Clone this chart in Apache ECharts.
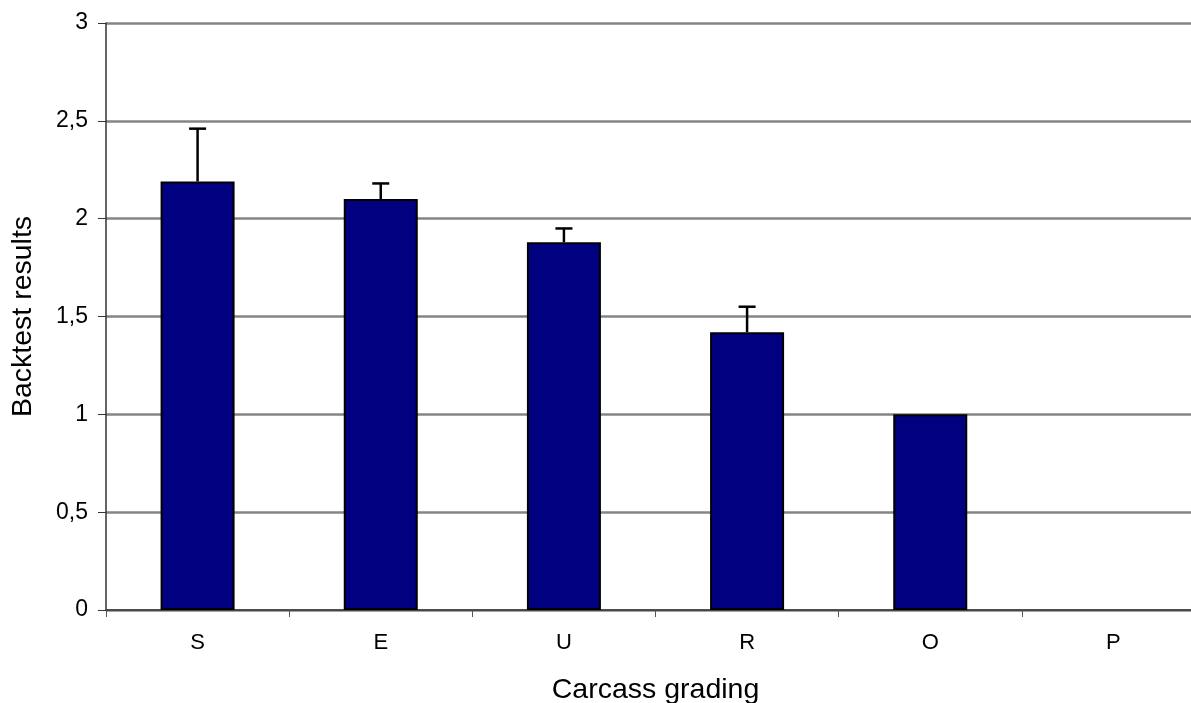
<!DOCTYPE html>
<html>
<head>
<meta charset="utf-8">
<script src="https://cdn.jsdelivr.net/npm/echarts@6/dist/echarts.min.js"></script>
<style>
html,body{margin:0;padding:0;overflow:hidden;background:#fff;width:1191px;height:703px;}
#c{width:1205px;height:703px;}
</style>
</head>
<body>
<div id="c"></div>
<script>
const categories = ['S', 'E', 'U', 'R', 'O', 'P'];
const values = [2.19, 2.10, 1.88, 1.42, 1.00, 0];
const errorHigh = [2.46, 2.18, 1.95, 1.55, 1.00, 0];
const yTicks = [0, 0.5, 1, 1.5, 2, 2.5, 3];

const chart = echarts.init(document.getElementById('c'), null, {renderer: 'canvas'});
const font = '"Liberation Sans", Arial, sans-serif';

const barData = values.map(v => (v === 0 ? '-' : v));
const errData = categories.map((c, i) => [i, values[i], errorHigh[i]]);

chart.setOption({
  animation: false,
  backgroundColor: '#ffffff',
  grid: {left: 106, right: 0, top: 23, bottom: 93, containLabel: false, outerBoundsMode: 'none'},
  xAxis: {
    type: 'category',
    data: categories,
    axisLine: {lineStyle: {color: '#333', width: 1.5}},
    axisTick: {show: true, alignWithLabel: false, length: 7, lineStyle: {color: '#555', width: 1}},
    axisLabel: {color: '#000', fontSize: 22, fontFamily: font, margin: 22},
    name: 'Carcass grading',
    nameLocation: 'middle',
    nameGap: 66,
    nameTextStyle: {color: '#000', fontSize: 28.5, fontFamily: font}
  },
  yAxis: {
    type: 'value',
    min: 0, max: 3, interval: 0.5,
    axisLine: {show: true, lineStyle: {color: '#333', width: 1.5}},
    axisTick: {show: true, length: 8, lineStyle: {color: '#333', width: 1}},
    axisLabel: {
      color: '#000', fontSize: 23, fontFamily: font, margin: 18,
      formatter: v => yTicks.includes(v) ? String(v).replace('.', ',') : ''
    },
    splitLine: {show: true, lineStyle: {color: '#858585', width: 2.5}},
    name: 'Backtest results',
    nameLocation: 'middle',
    nameGap: 68,
    nameTextStyle: {color: '#000', fontSize: 28.5, fontFamily: font}
  },
  series: [
    {
      type: 'bar',
      data: barData,
      barWidth: 74,
      itemStyle: {color: '#000080', borderColor: '#000', borderWidth: 2},
      z: 2
    },
    {
      type: 'custom',
      data: errData,
      z: 3,
      renderItem: function (params, api) {
        const i = api.value(0);
        const lo = api.value(1);
        const hi = api.value(2);
        if (!(hi > lo)) return null;
        const p0 = api.coord([i, lo]);
        const p1 = api.coord([i, hi]);
        const hw = 8.5;
        const style = {stroke: '#000', lineWidth: 2.5, fill: null};
        return {
          type: 'group',
          children: [
            {type: 'line', shape: {x1: p0[0], y1: p0[1], x2: p1[0], y2: p1[1]}, style: style},
            {type: 'line', shape: {x1: p1[0] - hw, y1: p1[1], x2: p1[0] + hw, y2: p1[1]}, style: style}
          ]
        };
      }
    }
  ]
});
</script>
</body>
</html>
